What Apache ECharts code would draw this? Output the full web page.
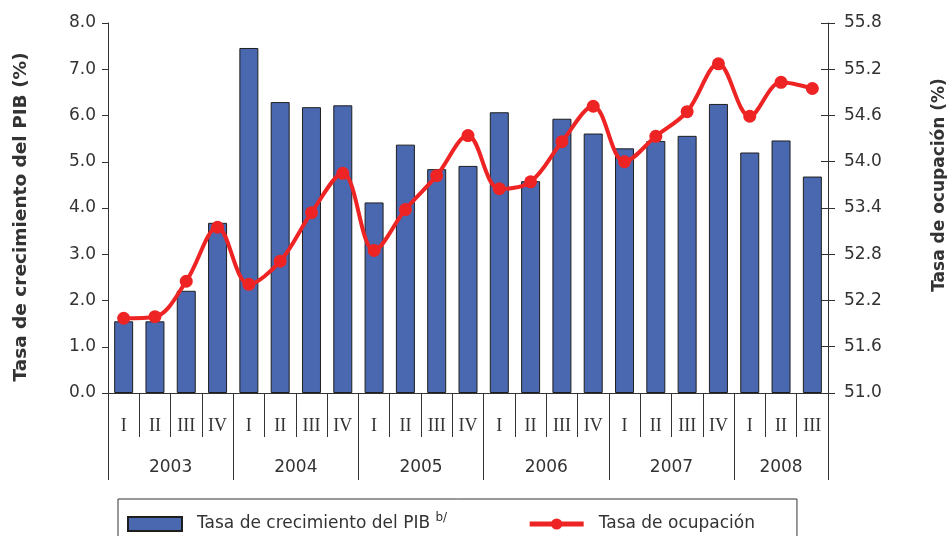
<!DOCTYPE html>
<html><head><meta charset="utf-8">
<script src="https://cdn.jsdelivr.net/npm/echarts@6/dist/echarts.min.js"></script>
<style>html,body{margin:0;padding:0;background:#fff;overflow:hidden}#c{width:947px;height:536px}</style>
</head><body><div id="c"></div>
<script>
const quarters = ['I','II','III','IV','I','II','III','IV','I','II','III','IV','I','II','III','IV','I','II','III','IV','I','II','III'];
const years = ['2003','2004','2005','2006','2007','2008'];
const quartersPerYear = [4,4,4,4,4,3];
const pib = [1.55,1.55,2.21,3.68,7.46,6.29,6.18,6.22,4.12,5.37,4.84,4.91,6.07,4.58,5.93,5.61,5.29,5.45,5.56,6.25,5.20,5.46,4.68];
const ocupacion = [51.97,51.99,52.45,53.15,52.41,52.71,53.34,53.85,52.85,53.38,53.82,54.34,53.65,53.74,54.26,54.72,54.00,54.33,54.65,55.27,54.59,55.03,54.95];
const leftAxis = {min: 0, max: 8, interval: 1};
const rightAxis = {min: 51, max: 55.8, interval: 0.6};
const nameBar = 'Tasa de crecimiento del PIB';
const nameLine = 'Tasa de ocupación';

const bounds = [0];
quartersPerYear.forEach(n => bounds.push(bounds[bounds.length-1] + n));
const mids = years.map((y, i) => (bounds[i] + bounds[i+1]) / 2);

const txt = '#333';
const lineC = '#333';
const red = '#ee2424';
const chart = echarts.init(document.getElementById('c'));
chart.setOption({
  animation: false,
  backgroundColor: '#fff',
  grid: {left: 108, right: 119, top: 23, bottom: 143, containLabel: false, outerBoundsMode: 'none'},
  legend: {
    left: 118, top: 499,
    orient: 'horizontal',
    padding: [13, 42, 12, 9],
    borderColor: '#333', borderWidth: 1,
    itemWidth: 54, itemHeight: 14, itemGap: 80,
    data: [
      {name: nameBar, icon: 'rect'},
      {name: nameLine, lineStyle: {width: 5, color: red}, itemStyle: {color: red}}
    ],
    formatter: n => n === nameBar ? '{a|' + n + ' }{b|b/}' : '{a|' + n + '}',
    textStyle: {
      color: txt, fontFamily: 'DejaVu Sans', fontSize: 17, padding: [0, 0, 0, 10],
      rich: {
        a: {fontFamily: 'DejaVu Sans', fontSize: 17, color: txt},
        b: {fontFamily: 'DejaVu Sans', fontSize: 12, color: txt, padding: [0, 0, 12, 0]}
      }
    }
  },
  xAxis: [
    {
      type: 'category', data: quarters, position: 'bottom',
      axisLine: {show: true, lineStyle: {color: lineC, width: 1}},
      axisTick: {show: true, interval: 0, length: 44, lineStyle: {color: lineC}},
      axisLabel: {interval: 0, margin: 24, color: txt, fontFamily: 'Liberation Serif', fontSize: 18},
      splitLine: {show: false}
    },
    {
      type: 'value', min: 0, max: bounds[bounds.length-1], position: 'bottom',
      axisLine: {show: false},
      axisTick: {show: true, length: 87, customValues: bounds, lineStyle: {color: lineC}},
      axisLabel: {show: true, margin: 66, customValues: mids, color: txt, fontFamily: 'DejaVu Sans', fontSize: 17,
        formatter: v => { const i = mids.indexOf(v); return i >= 0 ? years[i] : ''; }},
      splitLine: {show: false}
    }
  ],
  yAxis: [
    {
      type: 'value', position: 'left', min: leftAxis.min, max: leftAxis.max, interval: leftAxis.interval,
      name: 'Tasa de crecimiento del PIB (%)', nameLocation: 'middle', nameGap: 77,
      nameTextStyle: {fontFamily: 'DejaVu Sans', fontWeight: 'bold', fontSize: 18.5, color: txt, padding: [0, 18, 0, 0]},
      axisLine: {show: true, lineStyle: {color: lineC}},
      axisTick: {show: true, length: 6, lineStyle: {color: lineC}},
      axisLabel: {color: txt, fontFamily: 'DejaVu Sans', fontSize: 17, margin: 12, formatter: v => v.toFixed(1)},
      splitLine: {show: false}
    },
    {
      type: 'value', position: 'right', min: rightAxis.min, max: rightAxis.max, interval: rightAxis.interval,
      name: 'Tasa de ocupación (%)', nameLocation: 'middle', nameGap: 103,
      nameTextStyle: {fontFamily: 'DejaVu Sans', fontWeight: 'bold', fontSize: 17, color: txt, padding: [0, 0, 0, 46]},
      axisLine: {show: true, lineStyle: {color: lineC}},
      axisTick: {show: true, length: 7, lineStyle: {color: lineC}},
      axisLabel: {color: txt, fontFamily: 'DejaVu Sans', fontSize: 17, margin: 16, formatter: v => v.toFixed(1)},
      splitLine: {show: false}
    },
    {
      type: 'value', position: 'right', min: rightAxis.min, max: rightAxis.max, interval: rightAxis.interval,
      axisLine: {show: false},
      axisTick: {show: true, inside: true, length: 7, lineStyle: {color: lineC}},
      axisLabel: {show: false},
      splitLine: {show: false}
    }
  ],
  series: [
    {
      name: nameBar, type: 'bar', xAxisIndex: 0, yAxisIndex: 0, data: pib, barWidth: 19,
      itemStyle: {color: '#4a68b0', borderColor: '#1e1e1e', borderWidth: 1}
    },
    {
      name: nameLine, type: 'line', xAxisIndex: 0, yAxisIndex: 1, data: ocupacion,
      smooth: 0.35, symbol: 'circle', symbolSize: 13, z: 5,
      lineStyle: {color: red, width: 4},
      itemStyle: {color: red}
    }
  ]
});
</script></body></html>
